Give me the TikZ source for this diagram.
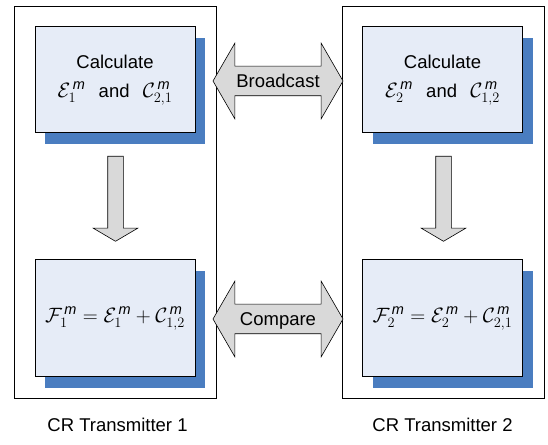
\documentclass[tikz,border=0pt]{standalone}
\usepackage{fontspec}
\setmainfont{Liberation Sans}
\usepackage{tikz}
\usetikzlibrary{positioning}
\usetikzlibrary{shapes.arrows}
\usetikzlibrary{shadows}

\definecolor{boxfill}{RGB}{230,236,247}
\definecolor{boxshade}{RGB}{74,125,192}
\definecolor{arrowgray}{RGB}{217,217,217}
\newcommand{\diagfont}{\fontsize{18.5}{29}\selectfont}
\DeclareMathSizes{18.5}{21}{14.5}{10}

\begin{document}
\begin{tikzpicture}
[x=1pt,y=1pt,font=\diagfont,
 txframe/.style={shape=rectangle,draw,line width=0.9pt,minimum width=202pt,minimum height=392pt},
 calcbox/.style={shape=rectangle,draw,line width=1pt,fill=boxfill,align=center,
   minimum width=160pt,
   drop shadow={shadow xshift=10pt,shadow yshift=-11pt,fill=boxshade,opacity=1}},
 downarrow/.style={single arrow,draw,line width=0.6pt,fill=arrowgray,
   shape border rotate=270,single arrow head extend=14.5pt,
   single arrow tip angle=119,minimum height=85pt,inner sep=7.5pt},
 twoway/.style={double arrow,draw,line width=0.6pt,fill=arrowgray,
   double arrow head extend=23pt,double arrow tip angle=120,
   minimum height=130pt,inner xsep=2pt,inner ysep=8pt,
   text height=13pt,text depth=0pt}]

\useasboundingbox (0,0) rectangle (548,444);

\draw (115,242) node (tx1) [txframe] {};
\draw (443,242) node (tx2) [txframe] {};

\draw (115,364) node (calc1) [calcbox,minimum height=106pt]
	{Calculate\\ $\mathcal{E}_1^{\,\mathit{m}}$\ \, and\ \, $\mathcal{C}_{2,1}^{\,\mathit{m}}$};
\draw (442.5,364) node (calc2) [calcbox,minimum height=106pt]
	{Calculate\\ $\mathcal{E}_2^{\,\mathit{m}}$\ \, and\ \, $\mathcal{C}_{1,2}^{\,\mathit{m}}$};

\draw (115,125.5) node (sum1) [calcbox,minimum height=117pt]
	{$\mathcal{F}_1^{\,\mathit{m}} = \mathcal{E}_1^{\,\mathit{m}} + \mathcal{C}_{1,2}^{\,\mathit{m}}$};
\draw (442.5,125.5) node (sum2) [calcbox,minimum height=117pt]
	{$\mathcal{F}_2^{\,\mathit{m}} = \mathcal{E}_2^{\,\mathit{m}} + \mathcal{C}_{2,1}^{\,\mathit{m}}$};

\draw (115.5,247.5) node (down1) [downarrow] {};
\draw (443.5,247.5) node (down2) [downarrow] {};

\draw (278,363) node (bcast) [twoway] {Broadcast};
\draw (278,125) node (cmp) [twoway] {Compare};

\draw (117.5,19) node (lab1) {CR Transmitter 1};
\draw (442.5,19) node (lab2) {CR Transmitter 2};

\end{tikzpicture}
\end{document}
